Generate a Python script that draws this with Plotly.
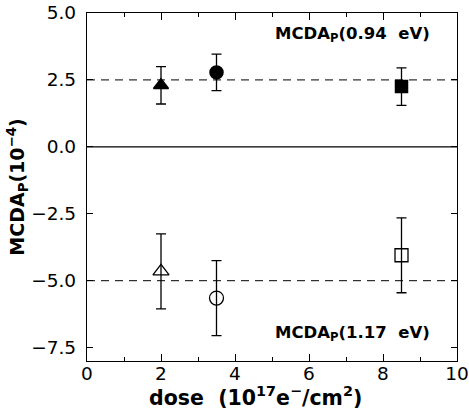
import plotly.graph_objects as go

# Dose values (10^17 e-/cm^2)
dose = [2.0, 3.5, 8.5]

# MCDA_P at 0.94 eV (filled markers) and 1.17 eV (open markers), units of 1e-4
mcda_094 = [2.3, 2.78, 2.25]
err_094 = [0.7, 0.68, 0.7]
mcda_117 = [-4.65, -5.65, -4.05]
err_117 = [1.4, 1.4, 1.4]

# Marker symbols per dose point
sym_094 = ["triangle-up", "circle", "square"]
sym_117 = ["triangle-up-open", "circle-open", "square-open"]
size_094 = [13, 13, 12]
size_117 = [14, 14, 13]

# Reference levels
ref_levels = [2.5, -5.0]
zero_level = [0.0]

x_range = [0, 10]
y_range = [-8, 5]

fig = go.Figure()

for x, y, e, s, sz in zip(dose, mcda_094, err_094, sym_094, size_094):
    fig.add_trace(go.Scatter(
        x=[x], y=[y], mode="markers",
        marker=dict(symbol=s, size=sz, color="black", line=dict(width=1.5, color="black")),
        error_y=dict(type="data", array=[e], color="black", thickness=1.3, width=5),
        showlegend=False,
    ))

for x, y, e, s, sz in zip(dose, mcda_117, err_117, sym_117, size_117):
    fig.add_trace(go.Scatter(
        x=[x], y=[y], mode="markers",
        marker=dict(symbol=s, size=sz, color="black", line=dict(width=1.3, color="black")),
        error_y=dict(type="data", array=[e], color="black", thickness=1.3, width=5),
        showlegend=False,
    ))

# Dashed reference lines and the zero line
for lv in ref_levels:
    fig.add_trace(go.Scatter(
        x=x_range, y=[lv, lv], mode="lines",
        line=dict(color="black", width=1, dash="8px,6px"),
        showlegend=False, hoverinfo="skip",
    ))
fig.add_trace(go.Scatter(
    x=x_range, y=zero_level * 2, mode="lines",
    line=dict(color="black", width=1.2),
    showlegend=False, hoverinfo="skip",
))

title_font = "DejaVu Sans, sans-serif"
tick_font = "DejaVu Sans, sans-serif"

fig.add_annotation(
    x=9.33, y=4.19, xref="x", yref="y", xanchor="right", yanchor="middle",
    text="<b>MCDA<sub>P</sub>(0.94\u00a0\u00a0eV)</b>", showarrow=False,
    font=dict(family=title_font, size=16.5, color="black"),
)
fig.add_annotation(
    x=9.33, y=-6.97, xref="x", yref="y", xanchor="right", yanchor="middle",
    text="<b>MCDA<sub>P</sub>(1.17\u00a0\u00a0eV)</b>", showarrow=False,
    font=dict(family=title_font, size=16.5, color="black"),
)

# x-axis title
fig.add_annotation(
    x=0.455, y=-0.103, xref="paper", yref="paper", xanchor="center", yanchor="middle",
    text="<b>dose\u00a0\u00a0(10<sup>17</sup>e<sup>−</sup>/cm<sup>2</sup>)</b>", showarrow=False,
    font=dict(family=title_font, size=20.5, color="black"),
)

axis_common = dict(
    showgrid=False, zeroline=False, showline=True, linecolor="black", linewidth=1.3,
    mirror="allticks", ticks="inside", tickcolor="black", tickwidth=1,
    tickfont=dict(family=tick_font, size=18.5, color="black"),
    automargin=False,
)

fig.update_xaxes(
    range=x_range, dtick=2, tick0=0, ticklen=7, ticklabelstandoff=-4,
    minor=dict(dtick=1, ticks="inside", ticklen=4, tickcolor="black"),
    **axis_common,
)
fig.update_yaxes(
    range=y_range, dtick=2.5, tick0=0, ticklen=6, tickformat=".1f", ticklabelstandoff=6,
    title=dict(text="<b>MCDA<sub>P</sub>(10<sup>−4</sup>)</b>",
               font=dict(family=title_font, size=19, color="black"), standoff=0),
    **axis_common,
)

fig.update_layout(
    width=469, height=412,
    margin=dict(l=87, r=12, t=13, b=51),
    paper_bgcolor="white", plot_bgcolor="white",
)

fig.write_html("out.html")
